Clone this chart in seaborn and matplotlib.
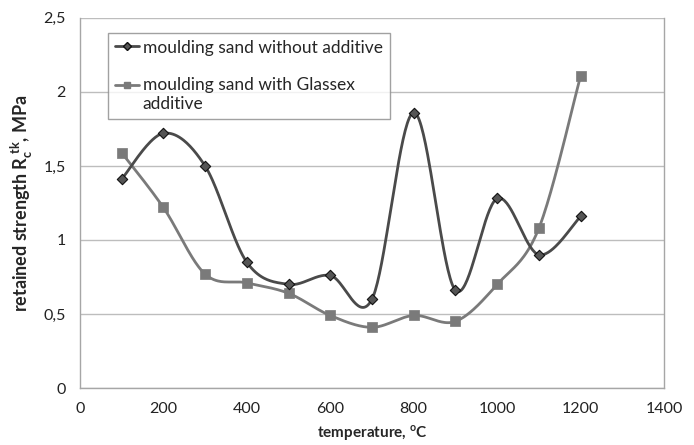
import numpy as np
import pandas as pd
import matplotlib
matplotlib.use("Agg")
import matplotlib.pyplot as plt
import seaborn as sns
from matplotlib.lines import Line2D
from matplotlib.legend_handler import HandlerLine2D

# Data
temperature = [100, 200, 300, 400, 500, 600, 700, 800, 900, 1000, 1100, 1200]
without_additive = [1.41, 1.72, 1.50, 0.85, 0.70, 0.76, 0.60, 1.86, 0.66, 1.28, 0.90, 1.16]
with_glassex = [1.59, 1.22, 0.77, 0.71, 0.64, 0.49, 0.41, 0.49, 0.45, 0.70, 1.08, 2.11]
x_ticks = [0, 200, 400, 600, 800, 1000, 1200, 1400]
y_ticks = [0, 0.5, 1, 1.5, 2, 2.5]

sns.set_style("white")
plt.rcParams["font.family"] = ["Lato", "DejaVu Sans"]
plt.rcParams["mathtext.fontset"] = "custom"
plt.rcParams["mathtext.rm"] = "Lato:bold"
plt.rcParams["mathtext.bf"] = "Lato:bold"


def smooth(x, y, n=40):
    # Excel-like smoothed line: cubic Bezier segments with Catmull-Rom control points
    p = np.column_stack([x, y]).astype(float)
    p = np.vstack([p[0], p, p[-1]])
    t = np.linspace(0, 1, n)[:, None]
    out = []
    for i in range(1, len(p) - 2):
        p0, p1, p2, p3 = p[i - 1], p[i], p[i + 1], p[i + 2]
        c1 = p1 + (p2 - p0) / 6
        c2 = p2 - (p3 - p1) / 6
        seg = ((1 - t) ** 3) * p1 + 3 * ((1 - t) ** 2) * t * c1 + 3 * (1 - t) * t ** 2 * c2 + t ** 3 * p2
        out.append(seg)
    s = np.vstack(out)
    return s[:, 0], s[:, 1]


class TopHandler(HandlerLine2D):
    # put the legend marker next to the first line of a wrapped label
    def __init__(self, shift=0, **kw):
        super().__init__(**kw)
        self.shift = shift

    def create_artists(self, legend, orig_handle, xdescent, ydescent, width, height,
                       fontsize, trans):
        return super().create_artists(legend, orig_handle, xdescent, ydescent - self.shift,
                                      width, height, fontsize, trans)


df = pd.DataFrame({"temperature": temperature,
                   "without": without_additive,
                   "glassex": with_glassex})

fig = plt.figure(figsize=(6.94, 4.45), dpi=100)
ax = fig.add_axes([0.115, 0.128, 0.842, 0.832])

c1 = "#4a4a4a"
c2 = "#7a7a7a"

sx, sy = smooth(df["temperature"], df["without"])
ax.plot(sx, sy, color=c1, lw=2.0, zorder=3)
sx, sy = smooth(df["temperature"], df["glassex"])
ax.plot(sx, sy, color=c2, lw=2.0, zorder=2)

sns.scatterplot(data=df, x="temperature", y="without", marker="D", s=28,
                color="#555555", edgecolor="#111111", linewidth=0.8, zorder=4, ax=ax)
sns.scatterplot(data=df, x="temperature", y="glassex", marker="s", s=42,
                color=c2, edgecolor=c2, linewidth=0.5, zorder=3, ax=ax)

ax.set_xlim(0, 1400)
ax.set_ylim(0, 2.5)
ax.set_xticks(x_ticks)
ax.set_yticks(y_ticks)
ax.set_yticklabels([f"{v:g}".replace(".", ",") for v in y_ticks])
ax.yaxis.grid(True, color="#bdbdbd", lw=1.0)
ax.set_axisbelow(True)

for side in ["left", "bottom", "right"]:
    ax.spines[side].set_color("#a6a6a6")
    ax.spines[side].set_linewidth(1.0)
ax.spines["top"].set_visible(False)
ax.tick_params(axis="both", labelsize=11.5, colors="#222222", length=5, width=1.0,
               direction="out", pad=5)
ax.tick_params(axis="both", color="#a6a6a6")

ax.set_xlabel(r"temperature, $^{\mathregular{o}}$C", fontsize=11, fontweight="bold", labelpad=5)
ax.set_ylabel(r"retained strength R$_{\mathbf{c}}^{\ \mathbf{tk}}$, MPa", fontsize=13,
              fontweight="bold", labelpad=6)

handles = [
    Line2D([], [], color=c1, lw=2, marker="D", markersize=4, markerfacecolor="#555555",
           markeredgecolor="#111111"),
    Line2D([], [], color=c2, lw=2, marker="s", markersize=5, markerfacecolor=c2,
           markeredgecolor=c2),
]
leg = ax.legend(handles, ["moulding sand without additive",
                          "moulding sand with Glassex\nadditive"],
                loc="upper left", bbox_to_anchor=(0.048, 0.96), fontsize=12.5,
                frameon=True, fancybox=False, handlelength=1.4, handletextpad=0.2,
                labelspacing=1.25, borderpad=0.4, borderaxespad=0,
                handler_map={handles[1]: TopHandler(shift=14.5)})
leg.get_frame().set_edgecolor("#8a8a8a")
leg.get_frame().set_linewidth(1.0)

fig.savefig("out.png", dpi=100)
